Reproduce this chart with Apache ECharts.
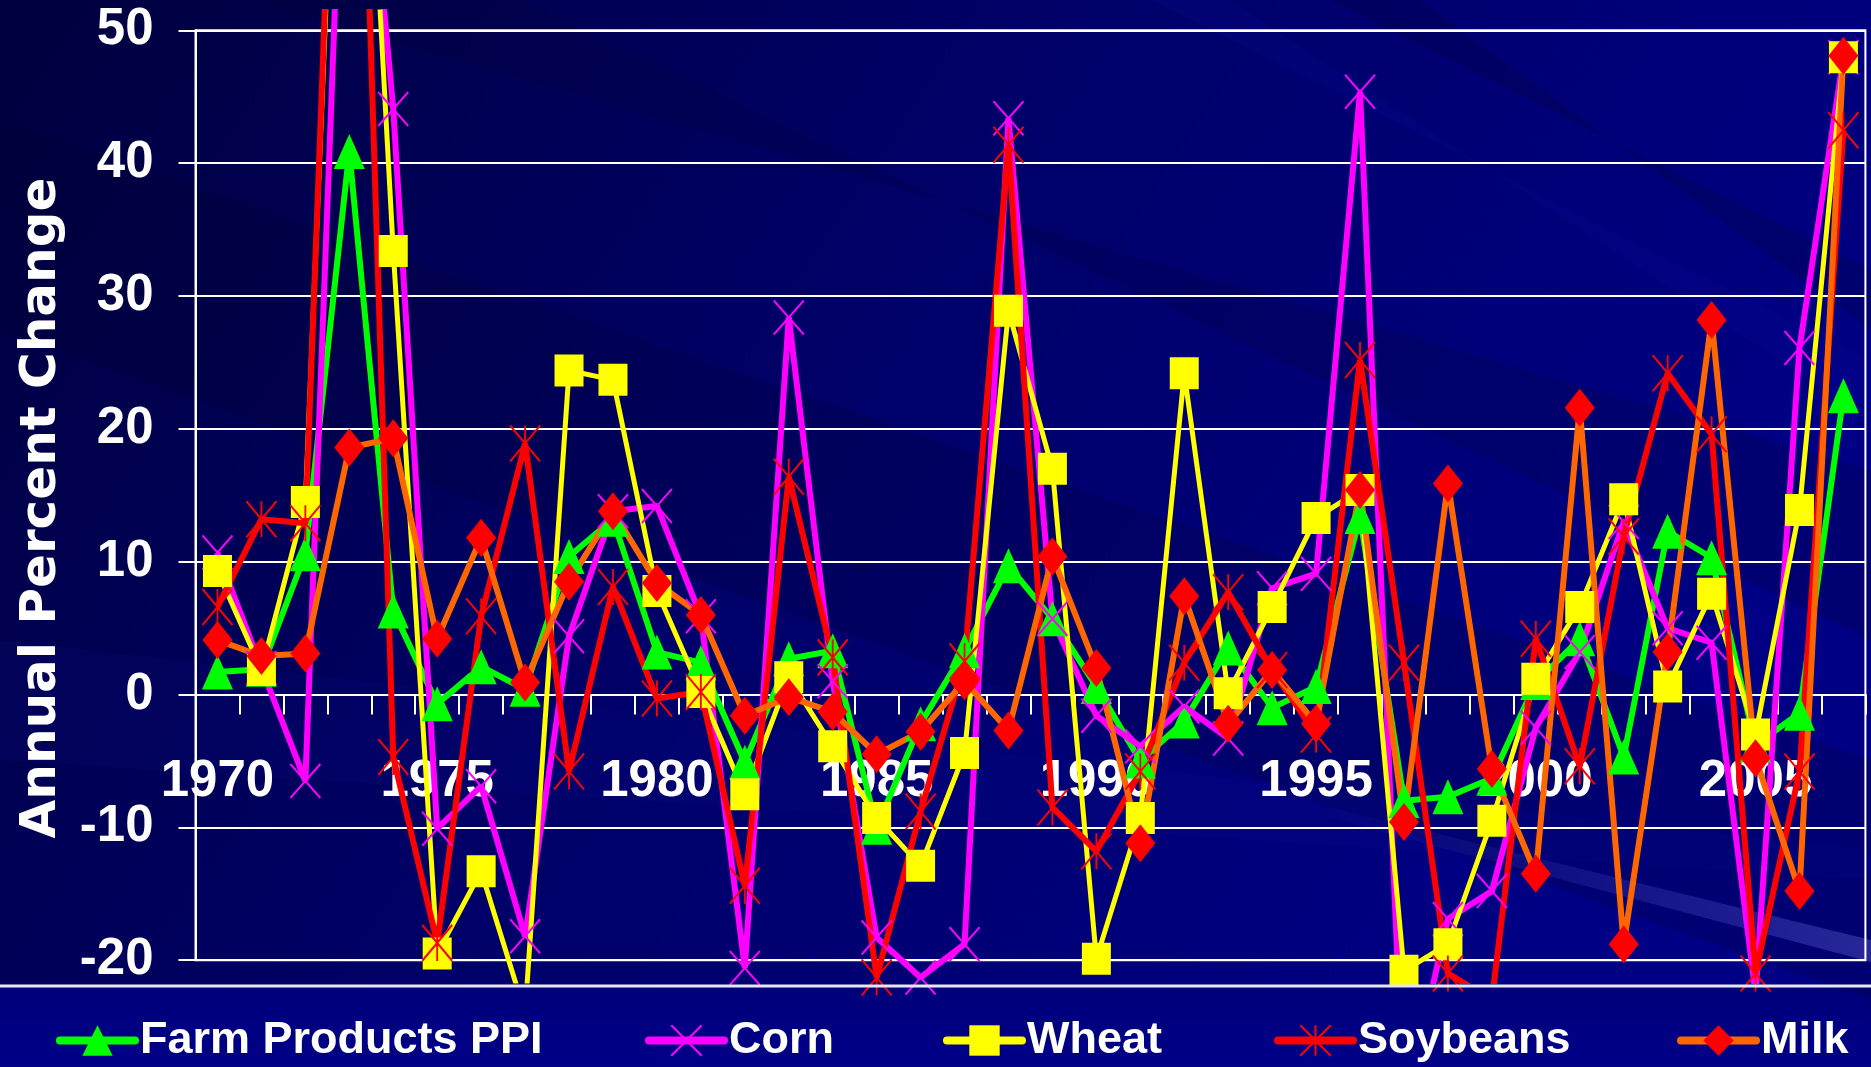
<!DOCTYPE html>
<html>
<head>
<meta charset="utf-8">
<title>Annual Percent Change 1970-2007</title>
<script src="https://cdn.jsdelivr.net/npm/echarts@6/dist/echarts.min.js"></script>
<style>
  html, body { margin: 0; padding: 0; background: #000070; }
  #chart { width: 1871px; height: 1067px; }
</style>
</head>
<body>
<div id="chart"></div>
<script>
// categories
var years = ['1970','1971','1972','1973','1974','1975','1976','1977','1978','1979',
             '1980','1981','1982','1983','1984','1985','1986','1987','1988','1989',
             '1990','1991','1992','1993','1994','1995','1996','1997','1998','1999',
             '2000','2001','2002','2003','2004','2005','2006','2007'];

// annual percent change (values above 50 / below -20 are clipped there)
var farmPPI = [1.7, 1.9, 10.6, 40.9, 6.3, -0.7, 2.1, 0.4, 10.4, 13.2,
               3.2, 2.4, -5.1, 2.7, 3.3, -10.0, -2.2, 3.3, 9.7, 5.7,
               0.6, -5.0, -2.0, 3.5, -1.0, 0.6, 13.4, -8.0, -7.7, -6.3,
               0.9, 4.2, -4.7, 12.3, 10.3, -3.8, -1.4, 22.5];
var corn = [10.7, 2.0, -6.5, 80, 44.1, -10.1, -6.9, -18.2, 4.4, 13.8,
            14.2, 5.9, -20.6, 28.4, 1.0, -18.3, -21.3, -18.8, 43.4, 5.7,
            -1.6, -3.9, -0.9, -3.3, 8.0, 9.1, 45.4, -31.5, -16.9, -14.8,
            -2.5, 3.2, 13.0, 5.0, 3.9, -22.5, 26.1, 48.0];
var wheat = [9.3, 1.85, 14.5, 94, 33.4, -19.5, -13.3, -24, 24.4, 23.7,
             7.8, 0.2, -7.5, 1.3, -3.9, -9.3, -12.9, -4.4, 28.9, 17.0,
             -19.9, -9.3, 24.2, 0.1, 6.6, 13.3, 15.4, -20.8, -18.8, -9.5,
             1.2, 6.6, 14.7, 0.6, 7.6, -3.0, 13.9, 48.0];
var soybeans = [6.6, 13.2, 12.9, 100, -4.7, -18.7, 5.9, 18.9, -5.8, 8.1,
                -0.3, 0.2, -14.4, 16.4, 2.8, -21.3, -8.8, 2.5, 41.4, -8.5,
                -11.8, -5.8, 2.4, 7.7, 1.85, -3.0, 25.2, 2.4, -21.0, -23,
                4.2, -5.4, 11.9, 24.2, 19.6, -21.0, -5.8, 42.5];
var milk = [4.1, 2.9, 3.1, 18.6, 19.3, 4.2, 11.8, 0.9, 8.5, 13.8,
            8.4, 6.0, -1.6, -0.2, -1.3, -4.5, -2.8, 1.0, -2.7, 10.4,
            2.0, -11.2, 7.4, -2.2, 1.85, -2.2, 15.4, -9.6, 15.9, -5.6,
            -13.5, 21.6, -18.8, 3.2, 28.2, -4.8, -14.8, 48.1];

var FONT = '"Liberation Sans", Arial, sans-serif';
var crossPath = 'path://M0,0L30,34M30,0L0,34';
var starPath = 'path://M0,0L30,36M30,0L0,36M15,0L15,36';

var myChart = echarts.init(document.getElementById('chart'));

// one legend per item so each sits where it does in the picture
function legendItem(name, left, itemStyle) {
  return {
    data: [name],
    left: left,
    top: 1013,
    itemWidth: 75,
    itemHeight: 38,
    selectedMode: false,
    itemStyle: itemStyle,
    lineStyle: { width: 8, cap: 'round' },
    textStyle: { color: '#fff', fontSize: 45, fontWeight: 'bold', fontFamily: FONT }
  };
}

// every series lives on the clip grid (axes 2 / 1)
function lineSeries(name, data, lineColor, width, symbol, size, itemStyle) {
  return {
    name: name,
    type: 'line',
    xAxisIndex: 2,
    yAxisIndex: 1,
    data: data,
    symbol: symbol,
    symbolSize: size,
    showAllSymbol: true,
    lineStyle: { color: lineColor, width: width },
    itemStyle: itemStyle,
    emphasis: { disabled: true }
  };
}

var option = {
  backgroundColor: '#000070',
  animation: false,
  graphic: [
    { type: 'rect', z: -10, silent: true, shape: { x: 0, y: 0, width: 1871, height: 986 },
      style: { fill: { type: 'linear', x: 0, y: 0, x2: 0.8, y2: 1, colorStops: [
        { offset: 0, color: '#00003e' }, { offset: 0.5, color: '#000068' }, { offset: 1, color: '#000084' }] } } },
    { type: 'polygon', z: -9, silent: true, shape: { points: [[0, 120], [0, 330], [1871, 1000], [1871, 760]] },
      style: { fill: 'rgba(0,0,40,0.18)' } },
    { type: 'polygon', z: -9, silent: true, shape: { points: [[250, 0], [520, 0], [1871, 640], [1871, 470]] },
      style: { fill: 'rgba(0,0,50,0.2)' } },
    { type: 'polygon', z: -9, silent: true, shape: { points: [[1150, 0], [1230, 0], [1871, 420], [1871, 360]] },
      style: { fill: 'rgba(20,20,170,0.12)' } },
    { type: 'polygon', z: -9, silent: true, shape: { points: [[1330, 0], [1420, 0], [1871, 330], [1871, 270]] },
      style: { fill: 'rgba(0,0,40,0.2)' } },
    { type: 'polygon', z: -9, silent: true, shape: { points: [[0, 640], [0, 760], [1871, 880], [1871, 850]] },
      style: { fill: 'rgba(20,20,150,0.12)' } },
    { type: 'polygon', z: -9, silent: true, shape: { points: [[1300, 800], [1871, 940], [1871, 962], [1300, 810]] },
      style: { fill: { type: 'linear', x: 0, y: 0, x2: 1, y2: 0, colorStops: [
        { offset: 0, color: 'rgba(120,120,255,0)' }, { offset: 1, color: 'rgba(140,140,255,0.28)' }] } } },
    { type: 'rect', z: -10, silent: true, shape: { x: 0, y: 986, width: 1871, height: 81 },
      style: { fill: { type: 'linear', x: 0, y: 0, x2: 0, y2: 1, colorStops: [
        { offset: 0, color: '#00007a' }, { offset: 1, color: '#000088' }] } } },
    { type: 'line', z: 10, silent: true, shape: { x1: 0, y1: 986, x2: 1871, y2: 986 },
      style: { stroke: '#e6e6f4', lineWidth: 3 } },
    // title line above the chart, only its lower edge shows
    { type: 'text', z: 10, silent: true, x: 937, y: 16,
      style: { text: '1970 - 2007', font: 'italic bold 80px "DejaVu Serif", "Liberation Serif", serif',
               fill: '#000', align: 'center', verticalAlign: 'bottom' } },
    { type: 'text', z: 10, silent: true, x: 42, y: 508, rotation: Math.PI / 2,
      style: { text: 'Annual Percent Change', font: 'bold 50px "DejaVu Sans", sans-serif',
               fill: '#fff', align: 'center', verticalAlign: 'middle' } }
  ],
  legend: [
    legendItem('Farm Products PPI', 51, { color: '#00ff00' }),
    legendItem('Corn', 640, { color: '#ff00ff', borderColor: '#ff00ff', borderWidth: 2 }),
    legendItem('Wheat', 938, { color: '#ffff00' }),
    legendItem('Soybeans', 1269, { color: '#ff0000', borderColor: '#ff0000', borderWidth: 2 }),
    legendItem('Milk', 1672, { color: '#ff0000' })
  ],
  grid: [
    // visible plot box
    { left: 195.5, right: 5.6, top: 30.3, bottom: 106.8, show: true,
      borderColor: '#fff', borderWidth: 2, backgroundColor: 'transparent' },
    // area the lines are clipped to (a bit larger than the box)
    { left: 195.5, right: 5.6, top: 12, bottom: 86 }
  ],
  xAxis: [
    {
      gridIndex: 0,
      type: 'category',
      data: years,
      boundaryGap: true,
      axisLine: { onZero: true, lineStyle: { color: '#fff', width: 2 } },
      axisTick: { show: true, interval: 0, length: 20, lineStyle: { color: '#fff', width: 2 } },
      axisLabel: { show: false },
      splitLine: { show: false }
    },
    // year labels, which sit under the zero line in the picture
    {
      gridIndex: 0,
      type: 'category',
      data: years,
      boundaryGap: true,
      position: 'bottom',
      offset: -178,
      axisLine: { show: false, onZero: false },
      axisTick: { show: false },
      axisLabel: { interval: 4, color: '#fff', fontSize: 51, fontWeight: 'bold', fontFamily: FONT,
                   margin: 0, verticalAlign: 'middle' },
      splitLine: { show: false }
    },
    { gridIndex: 1, type: 'category', data: years, boundaryGap: true, show: false }
  ],
  yAxis: [
    {
      gridIndex: 0,
      type: 'value',
      min: -20,
      max: 50,
      interval: 10,
      axisLine: { show: true, lineStyle: { color: '#fff', width: 2 } },
      axisTick: { show: true, length: 17, lineStyle: { color: '#fff', width: 2 } },
      axisLabel: { color: '#fff', fontSize: 51, fontWeight: 'bold', fontFamily: FONT, margin: 42 },
      splitLine: { show: true, lineStyle: { color: '#fff', width: 2 } }
    },
    { gridIndex: 1, type: 'value', min: -21.57, max: 51.40, show: false, splitLine: { show: false } }
  ],
  series: [
    lineSeries('Farm Products PPI', farmPPI, '#00ff00', 6, 'triangle', [31, 35], { color: '#00ff00' }),
    lineSeries('Corn', corn, '#ff00ff', 6, crossPath, [30, 34],
               { color: '#ff00ff', borderColor: '#ff00ff', borderWidth: 2 }),
    lineSeries('Wheat', wheat, '#ffff00', 5, 'rect', [29, 32], { color: '#ffff00' }),
    lineSeries('Soybeans', soybeans, '#ff0000', 6, starPath, [30, 36],
               { color: '#ff0000', borderColor: '#ff0000', borderWidth: 2 }),
    lineSeries('Milk', milk, '#ff6600', 6, 'diamond', [30, 38], { color: '#ff0000' })
  ]
};

myChart.setOption(option);
</script>
</body>
</html>
